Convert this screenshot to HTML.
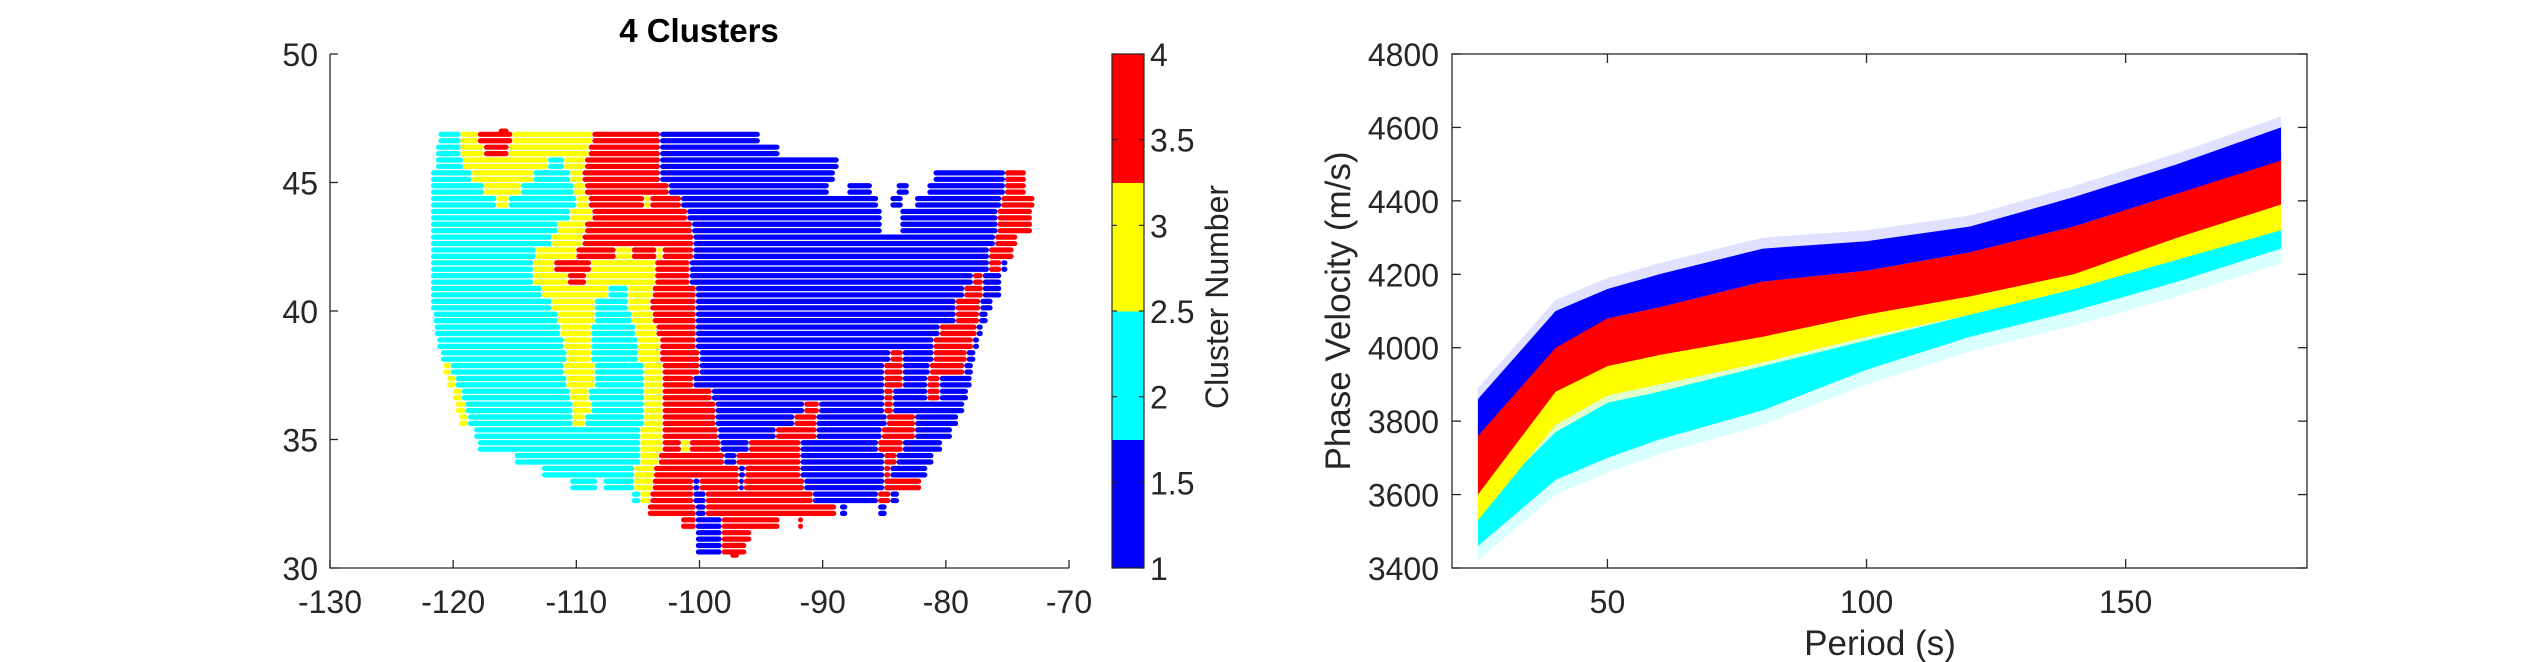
<!DOCTYPE html>
<html><head><meta charset="utf-8">
<style>
html,body{margin:0;padding:0;background:#fff;}
svg{display:block;font-family:"Liberation Sans",Arial,sans-serif;}
</style></head>
<body>
<svg id="fig" width="2544" height="662" viewBox="0 0 2544 662" xmlns="http://www.w3.org/2000/svg">
<rect width="2544" height="662" fill="#fff"/>
<g id="map"></g>
<g id="cbar"></g>
<g id="disp"></g>
</svg>
<script>
// ---------- Map data ----------
const clusterColors = ["#0000ff","#00ffff","#ffff00","#ff0000"];
const mapLats = [47.0,46.75,46.25,45.75,45.25,44.75,44.25,43.75,43.25,42.75,42.25,41.75,41.25,40.75,40.25,39.75,39.25,38.75,38.25,37.75,37.25,36.75,36.25,35.75,35.25,34.75,34.25,33.75,33.25,32.75,32.25,31.75,31.25,30.75,30.5];
const mapSegments = [
[[-116.3,-115.5,4]],
[[-121.2,-119.4,2],[-119.4,-118,3],[-118,-115.2,4],[-115.2,-108.7,3],[-108.7,-103.2,4],[-103.2,-95.1,1]],
[[-121.4,-119.4,2],[-119.4,-117.5,3],[-117.5,-115.5,4],[-115.5,-109,3],[-109,-103.2,4],[-103.2,-93.5,1]],
[[-121.4,-119.2,2],[-119.2,-112.3,3],[-112.3,-111,2],[-111,-109.3,3],[-109.3,-103.2,4],[-103.2,-88.7,1]],
[[-121.8,-118.5,2],[-118.5,-113.5,3],[-113.5,-110.5,2],[-110.5,-109.5,3],[-109.5,-103.2,4],[-103.2,-89,1],[-81,-75.2,1],[-75.2,-73.5,4]],
[[-121.8,-117.5,2],[-117.5,-114.5,3],[-114.5,-110.2,2],[-110.2,-109.3,3],[-109.3,-102.5,4],[-102.5,-89.5,1],[-88,-86,1],[-84,-83,1],[-81.5,-75.2,1],[-75.2,-73.5,4]],
[[-121.8,-116.5,2],[-116.5,-115.5,3],[-115.5,-110,2],[-110,-109,3],[-109,-104.5,4],[-104.5,-104,3],[-104,-101.5,4],[-101.5,-85.5,1],[-84.5,-83.5,1],[-82.5,-75.5,1],[-75.5,-72.8,4]],
[[-121.8,-110.5,2],[-110.5,-108.7,3],[-108.7,-101,4],[-101,-85.2,1],[-83.7,-75.8,1],[-75.8,-73,4]],
[[-121.8,-111.5,2],[-111.5,-109.3,3],[-109.3,-100.6,4],[-100.6,-85.2,1],[-83.7,-75.8,1],[-75.8,-73,4]],
[[-121.8,-112,2],[-112,-109.5,3],[-109.5,-100.5,4],[-100.5,-76,1],[-76,-74.2,4]],
[[-121.8,-113.3,2],[-113.3,-110,3],[-110,-106.8,4],[-106.8,-105.5,3],[-105.5,-103.5,4],[-103.5,-103,3],[-103,-100.5,4],[-100.5,-76.5,1],[-76.5,-74.5,4]],
[[-121.8,-113.5,2],[-113.5,-111.8,3],[-111.8,-108.8,4],[-108.8,-103.6,3],[-103.6,-100.8,4],[-100.8,-76.5,1],[-76.5,-75.5,4],[-75.5,-75,1]],
[[-121.8,-113.5,2],[-113.5,-110.7,3],[-110.7,-109.2,4],[-109.2,-103.6,3],[-103.6,-100.8,4],[-100.8,-77.8,1],[-77.8,-77,4],[-77,-75.5,1]],
[[-121.8,-112.8,2],[-112.8,-107.4,3],[-107.4,-105.8,2],[-105.8,-103.8,3],[-103.8,-100.3,4],[-100.3,-78.5,1],[-78.5,-77,4],[-77,-75.5,1]],
[[-121.8,-112,2],[-112,-108.5,3],[-108.5,-105.8,2],[-105.8,-104,3],[-104,-100.3,4],[-100.3,-79.2,1],[-79.2,-77.2,4],[-77.2,-76.2,1]],
[[-121.6,-111.5,2],[-111.5,-108.5,3],[-108.5,-105.5,2],[-105.5,-103.8,3],[-103.8,-100.3,4],[-100.3,-79.2,1],[-79.2,-77.3,4],[-77.3,-76.6,1]],
[[-121.5,-111.3,2],[-111.3,-108.8,3],[-108.8,-105.2,2],[-105.2,-103.5,3],[-103.5,-100.3,4],[-100.3,-80.5,1],[-80.5,-77.5,4],[-77.5,-77,1]],
[[-121.3,-111,2],[-111,-108.8,3],[-108.8,-105,2],[-105,-103.2,3],[-103.2,-100.3,4],[-100.3,-81,1],[-81,-77.8,4],[-77.8,-77.3,1]],
[[-121,-110.8,2],[-110.8,-108.8,3],[-108.8,-105,2],[-105,-103.2,3],[-103.2,-100,4],[-100,-84.5,1],[-84.5,-83.5,4],[-83.5,-81,1],[-81,-78.3,4],[-78.3,-77.6,1]],
[[-120.8,-120.2,3],[-120.2,-111,2],[-111,-108.5,3],[-108.5,-104.5,2],[-104.5,-103,3],[-103,-100,4],[-100,-85,1],[-85,-83.5,4],[-83.5,-81.3,1],[-81.3,-78.5,4],[-78.5,-77.8,1]],
[[-120.5,-119.8,3],[-119.8,-110.8,2],[-110.8,-108.5,3],[-108.5,-104.5,2],[-104.5,-103,3],[-103,-100.5,4],[-100.5,-85,1],[-85,-83.5,4],[-83.5,-81.5,1],[-81.5,-80.5,4],[-80.5,-77.9,1]],
[[-120,-119.3,3],[-119.3,-110.5,2],[-110.5,-109,3],[-109,-104.5,2],[-104.5,-103,3],[-103,-99,4],[-99,-85,1],[-85,-84.3,4],[-84.3,-81.5,1],[-81.5,-80.5,4],[-80.5,-78.2,1]],
[[-119.8,-119,3],[-119,-110.3,2],[-110.3,-108.8,3],[-108.8,-104.5,2],[-104.5,-103,3],[-103,-98.7,4],[-98.7,-91.5,1],[-91.5,-90.3,4],[-90.3,-85,1],[-85,-84.3,4],[-84.3,-78.5,1]],
[[-119.5,-118.8,3],[-118.8,-110.3,2],[-110.3,-109.3,3],[-109.3,-104.5,2],[-104.5,-103,3],[-103,-98.7,4],[-98.7,-92.3,1],[-92.3,-90.5,4],[-90.5,-84.8,1],[-84.8,-82.5,4],[-82.5,-79,1]],
[[-118.3,-104.8,2],[-104.8,-103,3],[-103,-98.5,4],[-98.5,-93.8,1],[-93.8,-90.5,4],[-90.5,-85.2,1],[-85.2,-82.5,4],[-82.5,-79.5,1]],
[[-118,-104.8,2],[-104.8,-103,3],[-103,-101.5,4],[-101.5,-100.8,3],[-100.8,-98.3,4],[-98.3,-96,1],[-96,-91.8,4],[-91.8,-85.5,1],[-85.5,-83.5,4],[-83.5,-80.3,1]],
[[-115,-104.8,2],[-104.8,-103.3,3],[-103.3,-98,4],[-98,-97,1],[-97,-91.8,4],[-91.8,-85,1],[-85,-84,4],[-84,-81,1]],
[[-112.8,-105.3,2],[-105.3,-103.7,3],[-103.7,-96.8,4],[-96.8,-96.3,1],[-96.3,-91.8,4],[-91.8,-85,1],[-85,-84.5,4],[-84.5,-81.5,1]],
[[-110.5,-108.3,2],[-107.8,-105.3,2],[-105.3,-103.8,3],[-103.8,-100.5,4],[-100.5,-100,1],[-100,-96.8,4],[-96.8,-96.4,1],[-96.4,-91.5,4],[-91.5,-85,1],[-85,-82,4]],
[[-105.5,-104.8,2],[-104.8,-104,3],[-104,-100.5,4],[-100.5,-99.5,1],[-99.5,-90.8,4],[-90.8,-85.5,1],[-85.5,-84.5,4],[-84.5,-83.8,1]],
[[-104.2,-100.3,4],[-100.3,-99.5,1],[-99.5,-88.9,4],[-88.6,-88,1],[-85.5,-84.8,1]],
[[-101.5,-100.3,4],[-100.3,-98.2,1],[-98.2,-93.5,4],[-92,-91.6,4]],
[[-100.3,-98.2,1],[-98.2,-95.8,4]],
[[-100.3,-98.2,1],[-98.2,-96.2,4]],
[[-97.5,-96.8,4]]
];
const mapXTicks = [-130,-120,-110,-100,-90,-80,-70];
const mapYTicks = [30,35,40,45,50];
const cbarTicks = ["1","1.5","2","2.5","3","3.5","4"];

// ---------- Dispersion data ----------
const periods = [25,40,50,60,80,100,120,140,160,180];
const cyanLo = [3460,3640,3700,3750,3830,3940,4030,4100,4180,4270];
const cyanHi = [3560,3770,3850,3880,3950,4020,4090,4160,4240,4330];
const yellowLo = [3530,3790,3870,3900,3960,4030,4090,4160,4240,4320];
const yellowHi = [3620,3890,3950,3980,4030,4090,4140,4210,4300,4400];
const redLo = [3600,3880,3950,3980,4030,4090,4140,4200,4300,4390];
const redHi = [3790,4010,4080,4110,4180,4210,4260,4330,4420,4530];
const blueLo = [3760,4000,4080,4110,4180,4210,4260,4330,4420,4510];
const blueHi = [3860,4100,4160,4200,4270,4290,4330,4410,4500,4600];
const dispXTicks = [50,100,150];
const dispYTicks = [3400,3600,3800,4000,4200,4400,4600,4800];

const NS="http://www.w3.org/2000/svg";
function mk(tag,attrs,parent){const e=document.createElementNS(NS,tag);for(const k in attrs)e.setAttribute(k,attrs[k]);parent.appendChild(e);return e;}

// ---- Map ----
const M={x0:330,x1:1069,y0:54,y1:568};
const mx=v=>M.x0+(v+130)/60*(M.x1-M.x0);
const my=v=>M.y1-(v-30)/20*(M.y1-M.y0);
const map=document.getElementById('map');
mapLats.forEach((lat,i)=>{
  const subs = (i===0||i===mapLats.length-1)?[lat]:[lat+0.125,lat-0.125];
  subs.forEach(l=>{
    mapSegments[i].forEach(s=>{
      const x=mx(s[0]),w=Math.max(mx(s[1])-mx(s[0]),5);
      const r=mk('rect',{x:x,y:my(l)-2.6,width:w,height:5.2,rx:2.6,fill:clusterColors[s[2]-1]},map);
      
      
    });
  });
});
let ax=mk('path',{d:`M${M.x0},${M.y0}V${M.y1}H${M.x1}`,stroke:'#262626','stroke-width':1.3,fill:'none'},map);

mapXTicks.forEach(t=>{
  mk('line',{x1:mx(t),x2:mx(t),y1:M.y1,y2:M.y1-8,stroke:'#262626','stroke-width':1.3},map);
  const tx=mk('text',{x:mx(t),y:613,'font-size':32,'text-anchor':'middle',fill:'#262626'},map);tx.textContent=t;
  
});
mapYTicks.forEach(t=>{
  mk('line',{x1:M.x0,x2:M.x0+8,y1:my(t),y2:my(t),stroke:'#262626','stroke-width':1.3},map);
  const tx=mk('text',{x:318,y:my(t)+12,'font-size':32,'text-anchor':'end',fill:'#262626'},map);tx.textContent=t;
  
});
const ttl=mk('text',{x:699,y:42,'font-size':33,'font-weight':'bold','text-anchor':'middle',fill:'#000'},map);ttl.textContent='4 Clusters';


// ---- Colorbar ----
const cb=document.getElementById('cbar');
const C={x0:1112,x1:1144,y0:54,y1:568};
const cy=v=>C.y1-(v-1)/3*(C.y1-C.y0);
clusterColors.forEach((c,i)=>{
  const r=mk('rect',{x:C.x0,y:cy(1+(i+1)*0.75),width:C.x1-C.x0,height:(C.y1-C.y0)/4+0.5,fill:c},cb);
  
});
mk('rect',{x:C.x0,y:C.y0,width:C.x1-C.x0,height:C.y1-C.y0,fill:'none',stroke:'#262626','stroke-width':1.2},cb);
cbarTicks.forEach(t=>{
  const v=parseFloat(t);
  mk('line',{x1:C.x1-5,x2:C.x1,y1:cy(v),y2:cy(v),stroke:'#262626','stroke-width':1.2},cb);
  mk('line',{x1:C.x0,x2:C.x0+5,y1:cy(v),y2:cy(v),stroke:'#262626','stroke-width':1.2},cb);
  const tx=mk('text',{x:1150,y:cy(v)+12,'font-size':32,fill:'#262626'},cb);tx.textContent=t;
  
});
const cbl=mk('text',{x:1228,y:297,'font-size':32,'text-anchor':'middle',fill:'#262626',transform:'rotate(-90 1228 297)'},cb);cbl.textContent='Cluster Number';


// ---- Dispersion ----
const D={x0:1452,x1:2307,y0:54,y1:568};
const dx=v=>D.x0+(v-20)/165*(D.x1-D.x0);
const dy=v=>D.y1-(v-3400)/1400*(D.y1-D.y0);
const disp=document.getElementById('disp');
function band(lo,hi,color,pad,op,name){
  let d='M'+periods.map((p,i)=>dx(p)+','+dy(hi[i]+pad)).join('L');
  d+='L'+periods.slice().reverse().map((p,j)=>{const i=periods.length-1-j;return dx(p)+','+dy(lo[i]-pad);}).join('L')+'Z';
  const e=mk('path',{d:d,fill:color,'fill-opacity':op},disp);
  
}
band(cyanLo,cyanHi,'#00ffff',40,0.15,'cyan-cluster-outliers');
band(yellowLo,yellowHi,'#ffff00',20,0.2,'yellow-cluster-outliers');
band(blueLo,blueHi,'#0000ff',30,0.12,'blue-cluster-outliers');
band(cyanLo,cyanHi,'#00ffff',0,1,'cyan-cluster-curves');
band(yellowLo,yellowHi,'#ffff00',0,1,'yellow-cluster-curves');
band(redLo,redHi,'#ff0000',0,1,'red-cluster-curves');
band(blueLo,blueHi,'#0000ff',0,1,'blue-cluster-curves');
const box=mk('rect',{x:D.x0,y:D.y0,width:D.x1-D.x0,height:D.y1-D.y0,fill:'none',stroke:'#262626','stroke-width':1.3},disp);

dispXTicks.forEach(t=>{
  mk('line',{x1:dx(t),x2:dx(t),y1:D.y1,y2:D.y1-9,stroke:'#262626','stroke-width':1.3},disp);
  mk('line',{x1:dx(t),x2:dx(t),y1:D.y0,y2:D.y0+9,stroke:'#262626','stroke-width':1.3},disp);
  const tx=mk('text',{x:dx(t),y:613,'font-size':32,'text-anchor':'middle',fill:'#262626'},disp);tx.textContent=t;
  
});
dispYTicks.forEach(t=>{
  mk('line',{x1:D.x0,x2:D.x0+9,y1:dy(t),y2:dy(t),stroke:'#262626','stroke-width':1.3},disp);
  mk('line',{x1:D.x1-9,x2:D.x1,y1:dy(t),y2:dy(t),stroke:'#262626','stroke-width':1.3},disp);
  const tx=mk('text',{x:1439,y:dy(t)+12,'font-size':32,'text-anchor':'end',fill:'#262626'},disp);tx.textContent=t;
  
});
const xl=mk('text',{x:1880,y:655,'font-size':35,'text-anchor':'middle',fill:'#262626'},disp);xl.textContent='Period (s)';

const yl=mk('text',{x:1350,y:311,'font-size':35,'text-anchor':'middle',fill:'#262626',transform:'rotate(-90 1350 311)'},disp);yl.textContent='Phase Velocity (m/s)';

</script>
</body></html>
